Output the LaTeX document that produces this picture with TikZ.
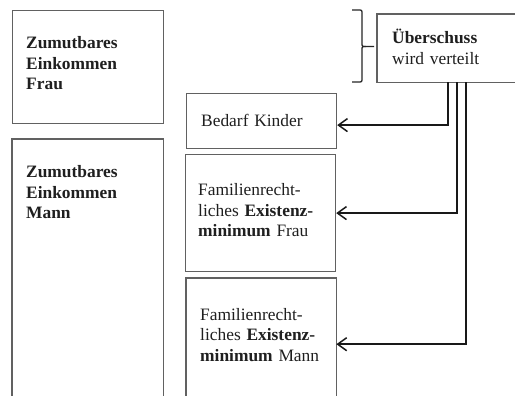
\documentclass[tikz,border=0pt]{standalone}
\usepackage{fontspec}
\setmainfont{Liberation Serif}
\usetikzlibrary{arrows.meta}

\tikzset{
  panel/.style={draw=black!62, line width=1.2pt, inner sep=0pt, anchor=north west},
  openpanel/.style={inner sep=0pt, anchor=north west},
  openedge/.style={draw=black!62, line width=1.2pt},
  label/.style={anchor=base west, inner sep=0pt, text width=122pt, align=left,
    text=black!88, font=\fontsize{17.4}{20.5}\selectfont},
  feed/.style={draw=black!90, line width=1.6pt,
    -{Straight Barb[length=9pt,width=13pt,line width=1.5pt]}},
  curly/.style={draw=black!85, line width=1.3pt, line join=round}
}

\begin{document}
\begin{tikzpicture}[x=1pt, y=-1pt]
  \useasboundingbox (0,0) rectangle (515,396);
  \fill[white] (0,0) rectangle (515,396);

  % left column: reasonable incomes
  \node[panel, minimum width=151pt, minimum height=113pt] (frau) at (12,10) {};
  \node[openpanel, minimum width=151pt, minimum height=257pt] (mann) at (12,139) {};
  \draw[openedge]
    (mann.south west) -- (mann.north west) -- (mann.north east) -- (mann.south east);
  \node[label] (frautext) at (26,49) {\textbf{Zumutbares}\\\textbf{Einkommen}\\\textbf{Frau}};
  \node[label] (manntext) at (26,178) {\textbf{Zumutbares}\\\textbf{Einkommen}\\\textbf{Mann}};

  % middle column: needs
  \node[panel, minimum width=150pt, minimum height=55pt] (kinder) at (186,93) {};
  \node[panel, minimum width=150pt, minimum height=117pt] (exf) at (185,154) {};
  \node[openpanel, minimum width=150pt, minimum height=118pt] (exm) at (186,278) {};
  \draw[openedge]
    (exm.south west) -- (exm.north west) -- (exm.north east) -- (exm.south east);
  \node[label] (kindertext) at (201,127) {Bedarf Kinder};
  \node[label] (exftext) at (198,196) {Familienrecht-\\liches \textbf{Existenz-}\\\textbf{minimum} Frau};
  \node[label] (exmtext) at (200,320) {Familienrecht-\\liches \textbf{Existenz-}\\\textbf{minimum} Mann};

  % surplus box, open towards the right margin
  \node[openpanel, minimum width=138pt, minimum height=68pt] (ueber) at (377,14) {};
  \draw[openedge]
    (ueber.north east) -- (ueber.north west) -- (ueber.south west) -- (ueber.south east);
  \node[label, text width=110pt] (uebertext) at (392,44) {\textbf{Überschuss}\\wird verteilt};

  % curly brace in front of the surplus box
  \draw[curly] (352,10) -- (358,10) .. controls (362,10) .. (362,14) -- (362,43)
    .. controls (362,46.5) .. (366,46.5) -- (374,46.5);
  \draw[curly] (366,46.5) .. controls (362,46.5) .. (362,50) -- (362,78)
    .. controls (362,82) .. (358,82) -- (352,82);

  % distribution of the surplus
  \draw[feed] (ueber.south -| 448,0) |- ([yshift=-4pt]kinder.east);
  \draw[feed] (ueber.south -| 457,0) |- (exf.east);
  \draw[feed] (ueber.south -| 466,0) |- ([yshift=-7pt]exm.east);
\end{tikzpicture}
\end{document}
